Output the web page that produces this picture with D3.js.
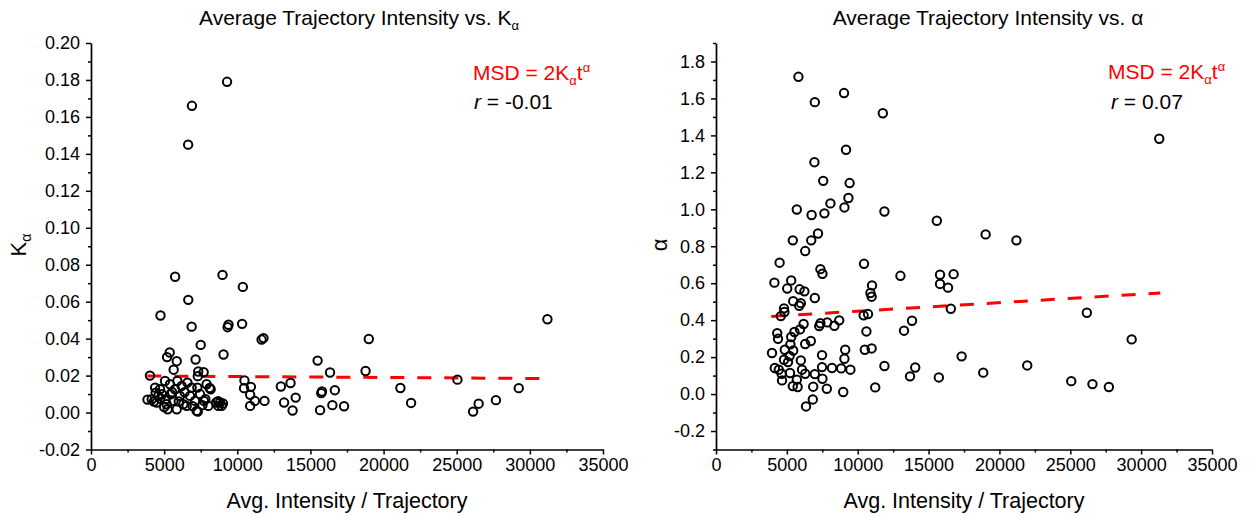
<!DOCTYPE html>
<html><head><meta charset="utf-8">
<script src="https://cdn.jsdelivr.net/npm/d3@7"></script>
<style>body{margin:0;background:#fff} svg{display:block} text{font-family:'Liberation Sans',Arial,sans-serif}</style>
</head><body><svg id="c" width="1258" height="518"></svg>
<script>
// ---- Data: left panel (Avg. intensity vs K_alpha)
const kIntensity = [9300,6900,6640,5750,8990,10380,6650,4750,6880,9400,9340,10330,11660,11790,31200,18990,7500,9060,7150,5380,5200,5860,5650,15490,16340,18770,25050,21150,21880,26120,26500,27680,29240,12980,13640,13200,13990,13780,15790,15740,16670,15660,16500,17300,10490,10460,10930,10880,11200,10880,11860,
  7330,7700,7300,4030,
  3860,4150,4380,4420,4490,4720,4740,4850,5060,5100,5170,5240,5400,5450,5630,5740,5860,5900,6080,6200,6310,6540,6590,6770,6880,7110,7220,7270,7720,7900,8020,8180,8550,8700,8820,8930,8690,9020,8110,7820,7620,7300,4300,4600,5000,5550,6000,6400,6950,7450];
const kValues = [0.179,0.166,0.145,0.0735,0.0745,0.068,0.061,0.0525,0.0465,0.0475,0.0462,0.048,0.0395,0.0403,0.0505,0.0398,0.0366,0.0314,0.0287,0.0325,0.0300,0.0278,0.0232,0.0281,0.0217,0.0225,0.0178,0.0133,0.0052,0.0005,0.0048,0.0067,0.0132,0.0141,0.0160,0.0054,0.0081,0.0011,0.0114,0.0105,0.0121,0.0013,0.0040,0.0034,0.0174,0.0132,0.0139,0.0096,0.0063,0.0036,0.0063,
  0.0222,0.0218,0.0197,0.0200,
  0.0070,0.0072,0.0135,0.0108,0.0054,0.0126,0.0075,0.0099,0.0171,0.0072,0.0045,0.0018,0.0153,0.0099,0.0063,0.0126,0.0018,0.0171,0.0090,0.0144,0.0045,0.0036,0.0162,0.0090,0.0135,0.0063,0.0009,0.0135,0.0063,0.0153,0.0036,0.0126,0.0054,0.0036,0.0054,0.0036,0.0061,0.0049,0.0133,0.0072,0.0040,0.0005,0.0060,0.0090,0.0030,0.0110,0.0060,0.0110,0.0035,0.0100];
const kFitX = [3850, 31300];
const kFitY = [0.0198, 0.0184];

// ---- Data: right panel (Avg. intensity vs alpha)
const alphaIntensity = [5815,9034,6973,11772,31278,9175,6945,7566,9429,9344,8074,9062,5702,6747,7650,11885,15583,19027,21200,5420,6719,7199,6295,4488,10445,7368,7509,13014,15808,16768,4121,5307,11010,15808,16373,5025,5900,6239,10897,10982,6973,5448,5985,5872,4799,4827,4573,16571,10727,10417,26169,13833,8695,7848,7368,7283,8356,6182,5928,4319,5533,10614,13268,4375,5307,5250,6295,6690,29331,5448,4855,3952,9118,10501,10982,7481,5194,4799,5081,5985,9062,17333,21963,11885,14058,4150,4432,6070,7481,8187,8836,9485,4630,5222,6295,6973,18858,4658,5702,7509,13691,15724,25068,26564,27722,5420,5759,6860,7820,11236,8977,6832,6352];
const alphaValues = [1.717,1.629,1.580,1.520,1.382,1.322,1.255,1.154,1.142,1.061,1.032,1.010,0.999,0.969,0.978,0.988,0.938,0.864,0.832,0.832,0.832,0.869,0.774,0.711,0.705,0.676,0.651,0.640,0.646,0.649,0.603,0.615,0.588,0.596,0.576,0.571,0.567,0.556,0.547,0.527,0.520,0.503,0.492,0.478,0.464,0.444,0.422,0.462,0.433,0.426,0.440,0.397,0.399,0.388,0.383,0.368,0.370,0.379,0.350,0.330,0.336,0.339,0.343,0.299,0.309,0.269,0.271,0.287,0.296,0.236,0.240,0.222,0.240,0.240,0.247,0.211,0.206,0.186,0.173,0.182,0.191,0.204,0.155,0.152,0.144,0.141,0.132,0.132,0.146,0.141,0.139,0.132,0.110,0.114,0.110,0.108,0.116,0.074,0.078,0.083,0.096,0.090,0.070,0.054,0.038,0.043,0.038,0.040,0.029,0.036,0.011,-0.029,-0.067];
const alphaFitX = [3900, 31350];
const alphaFitY = [0.420, 0.547];

// ---- Ticks
const xTickValues = [0,5000,10000,15000,20000,25000,30000,35000];
const xMinorTicks = [2500,7500,12500,17500,22500,27500,32500];
const kTickValues = [-0.02,0.00,0.02,0.04,0.06,0.08,0.10,0.12,0.14,0.16,0.18,0.20];
const kMinorTicks = [-0.01,0.01,0.03,0.05,0.07,0.09,0.11,0.13,0.15,0.17,0.19];
const alphaTickValues = [-0.2,0.0,0.2,0.4,0.6,0.8,1.0,1.2,1.4,1.6,1.8];
const alphaMinorTicks = [-0.3,-0.1,0.1,0.3,0.5,0.7,0.9,1.1,1.3,1.5,1.7,1.9];

const svg = d3.select('#c');
const TOP = 43, BOTTOM = 449.5;

function panel(o){
  const x = d3.scaleLinear().domain([0,35000]).range([o.x0, o.x1]);
  const y = d3.scaleLinear().domain(o.yDomain).range([BOTTOM, TOP]);
  const g = svg.append('g');

  // axes
  g.append('g').attr('transform',`translate(0,${BOTTOM})`)
    .call(d3.axisBottom(x).tickValues(xTickValues).tickSize(5).tickSizeOuter(0).tickPadding(4).tickFormat(d=>String(d)));
  g.append('g').attr('transform',`translate(0,${BOTTOM})`)
    .call(d3.axisBottom(x).tickValues(xMinorTicks).tickSize(3).tickFormat(''))
    .select('.domain').remove();
  g.append('g').attr('transform',`translate(${o.x0},0)`)
    .call(d3.axisLeft(y).tickValues(o.ticks).tickSize(5).tickSizeOuter(0).tickPadding(6).tickFormat(o.fmt));
  g.append('g').attr('transform',`translate(${o.x0},0)`)
    .call(d3.axisLeft(y).tickValues(o.minor).tickSize(3).tickFormat(''))
    .select('.domain').remove();
  g.selectAll('.domain').attr('stroke','#000').attr('stroke-width',1.7);
  g.selectAll('.tick line').attr('stroke','#000').attr('stroke-width',1.5);
  g.selectAll('.tick text').attr('font-size',18).attr('fill','#000').attr('font-family',"'Liberation Sans',Arial,sans-serif");

  // fit line
  const fit = o.fitX.map((v,i)=>[x(v), y(o.fitY[i])]);
  g.append('path').attr('d', d3.line()(fit)).attr('fill','none')
    .attr('stroke','#ff0000').attr('stroke-width',3).attr('stroke-dasharray','14,13');

  // points
  g.append('g').selectAll('circle').data(o.xs).join('circle')
    .attr('cx',(d)=>x(d)).attr('cy',(d,i)=>y(o.ys[i])).attr('r',4.2)
    .attr('fill','none').attr('stroke','#000').attr('stroke-width',2);

  // title
  const cx = (o.x0+o.x1)/2;
  const t = g.append('text').attr('x',o.titleX).attr('y',25).attr('text-anchor','middle').attr('font-size',21).attr('fill','#000');
  t.append('tspan').text(o.titleMain);
  if (o.titleSubK){
    t.append('tspan').text('K');
    t.append('tspan').attr('font-size',13).attr('dy',5).text('α');
  }
  // x label
  g.append('text').attr('x',cx).attr('y',508).attr('text-anchor','middle').attr('font-size',21.5).attr('fill','#000')
    .text('Avg. Intensity / Trajectory');
  // y label
  const yl = g.append('text').attr('transform',`translate(${o.ylX},${o.ylY}) rotate(-90)`).attr('text-anchor','middle')
    .attr('font-size',22).attr('fill','#000');
  if (o.ylK){
    yl.append('tspan').text('K');
    yl.append('tspan').attr('font-size',14).attr('dy',5).text('α');
  } else yl.text('α');

  // annotations
  const m = g.append('text').attr('x',o.annX).attr('y',o.msdY).attr('font-size',21).attr('fill','#ff0000');
  m.append('tspan').text('MSD = 2K');
  m.append('tspan').attr('font-size',13).attr('dy',5).text('α');
  m.append('tspan').attr('dy',-5).text('t');
  m.append('tspan').attr('font-size',13).attr('dy',-8).text('α');
  const r = g.append('text').attr('x',o.rX).attr('y',o.rY).attr('font-size',21).attr('fill','#000');
  r.append('tspan').attr('font-style','italic').text('r');
  r.append('tspan').text(' = ' + o.rText);
}

panel({x0:91, x1:603, yDomain:[-0.02,0.20], ticks:kTickValues, minor:kMinorTicks, fmt:d=>d.toFixed(2),
  xs:kIntensity, ys:kValues, fitX:kFitX, fitY:kFitY, titleX:359, titleMain:'Average Trajectory Intensity vs. ', titleSubK:true,
  ylX:26, ylY:245, ylK:true, annX:473, rX:474, msdY:80, rY:109, rText:'-0.01'});
panel({x0:716, x1:1212, yDomain:[-0.3,1.9], ticks:alphaTickValues, minor:alphaMinorTicks, fmt:d=>d.toFixed(1),
  xs:alphaIntensity, ys:alphaValues, fitX:alphaFitX, fitY:alphaFitY, titleX:988, titleMain:'Average Trajectory Intensity vs. α', titleSubK:false,
  ylX:667, ylY:245, ylK:false, annX:1108, rX:1111, msdY:79, rY:109, rText:'0.07'});
</script></body></html>
